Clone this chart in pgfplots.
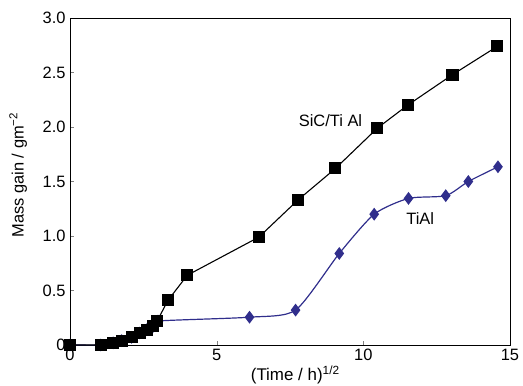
\documentclass[border=0pt]{standalone}
\usepackage{fontspec}
\setmainfont{Liberation Sans}
\usepackage{pgfplots}
\pgfplotsset{compat=1.18}
\definecolor{tialblue}{RGB}{48,46,140}
\begin{document}
\begin{tikzpicture}
\begin{axis}[
  scale only axis,
  width=440bp, height=327bp,
  xmin=0, xmax=15, ymin=0, ymax=3,
  xtick={0,5,10,15},
  ytick={0,0.5,1,1.5,2,2.5,3},
  yticklabels={0,0.5,1.0,1.5,2.0,2.5,3.0},
  xticklabels={0,5,10,15},
  tick align=inside,
  major tick length=4pt,
  xtick pos=bottom, ytick pos=left,
  tick label style={font=\fontsize{16.5}{18}\selectfont},
  yticklabel style={xshift=-1pt},
  xticklabel style={yshift=-1pt},
  xlabel={(Time / h)\textsuperscript{1/2}},
  ylabel={Mass gain / gm\textsuperscript{−2}},
  xlabel style={at={(axis description cs:0.512,-0.108)}, anchor=base, font=\fontsize{17}{18}\selectfont},
  ylabel style={at={(axis description cs:-0.118,0.52)}, anchor=center, font=\fontsize{16.5}{18}\selectfont},
  axis line style={line width=0.8pt},
  clip=false,
]
\addplot[tialblue, line width=1.2pt, smooth, tension=0.4,
  mark=diamond*, mark size=5.5pt, mark options={fill=tialblue, draw=tialblue}]
  coordinates {
  (0,0) (1.05,0) (1.47,0.02) (1.76,0.04) (2.10,0.07) (2.38,0.11) (2.61,0.14) (2.83,0.17) (3.0,0.22)
  (6.12,0.255) (7.69,0.32) (9.18,0.84) (10.37,1.20) (11.54,1.345) (12.81,1.37) (13.58,1.50) (14.59,1.635)
  };
\addplot[black, line width=1.1pt,
  mark=square*, mark size=5.5pt, mark options={fill=black}]
  coordinates {
  (0,0) (1.05,0) (1.47,0.02) (1.76,0.04) (2.10,0.07) (2.38,0.11) (2.61,0.14) (2.83,0.17) (2.97,0.22)
  (3.34,0.41) (4.0,0.64) (6.44,0.99) (7.77,1.33) (9.05,1.62) (10.48,1.99) (11.51,2.20) (13.04,2.48) (14.57,2.74)
  };
\node[font=\fontsize{16.5}{18}\selectfont] at (axis cs:8.88,2.06) {SiC/Ti Al};
\node[font=\fontsize{16.5}{18}\selectfont] at (axis cs:11.94,1.16) {TiAl};
\end{axis}
\pgfresetboundingbox
\path[use as bounding box] ([shift={(-70bp,-41bp)}]current axis.south west) rectangle ([shift={(13bp,18bp)}]current axis.north east);
\end{tikzpicture}
\end{document}
